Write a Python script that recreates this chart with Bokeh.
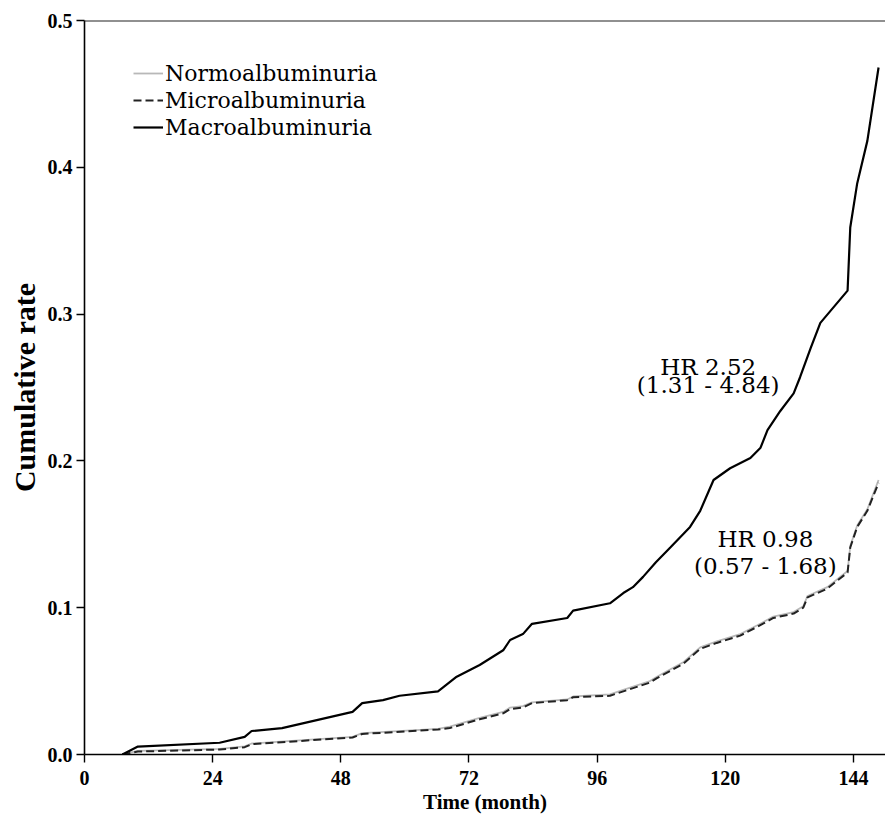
from bokeh.plotting import figure
from bokeh.models import Span, Legend, LegendItem, FixedTicker, Range1d, NumeralTickFormatter, Label
from bokeh.embed import file_html
from bokeh.resources import INLINE

# Data (months, cumulative rate)
macro_t = [7.1, 10, 25.3, 30, 31.3, 37, 50.2, 52, 55.9, 59, 66.2, 69.7, 74, 78.4, 79.7, 82.1, 83.8,
           90.4, 91.5, 98.4, 100.9, 102.7, 104.6, 107, 109.7, 113.4, 115.3, 117.8, 120.9, 124.7,
           126.6, 127.9, 130.3, 132.8, 134, 136, 137.8, 142.9, 143.4, 144.7, 146.6, 148.7]
macro_v = [0.0, 0.0054, 0.008, 0.012, 0.016, 0.018, 0.029, 0.035, 0.037, 0.040, 0.043, 0.053,
           0.061, 0.071, 0.078, 0.082, 0.089, 0.093, 0.098, 0.103, 0.110, 0.114, 0.121, 0.131,
           0.141, 0.155, 0.166, 0.187, 0.195, 0.202, 0.209, 0.221, 0.234, 0.246, 0.257, 0.277,
           0.294, 0.316, 0.359, 0.389, 0.418, 0.468]

micro_t = [7.1, 10, 25.3, 30, 31.3, 50.2, 52, 66.2, 68.4, 74, 78.4, 79.7, 82.1, 83.8, 90.4, 91.5,
           98.4, 100.9, 105.9, 107.2, 112.2, 115.3, 118.4, 122.8, 126, 129, 132.8, 134.6, 135.4,
           139.1, 142.9, 143.4, 144.7, 146.6, 148.7]
micro_v = [0.0, 0.002, 0.0034, 0.005, 0.007, 0.0116, 0.014, 0.017, 0.018, 0.024, 0.028, 0.031,
           0.032, 0.035, 0.037, 0.039, 0.040, 0.043, 0.049, 0.052, 0.062, 0.072, 0.076, 0.081,
           0.087, 0.093, 0.096, 0.100, 0.107, 0.113, 0.124, 0.141, 0.155, 0.166, 0.185]

normo_t = [7.1, 10, 25.3, 30, 31.3, 50.2, 52, 66.2, 68.4, 74, 78.4, 79.7, 82.1, 83.8, 90.4, 91.5,
           98.4, 100.9, 105.9, 107.2, 112.2, 115.3, 118.4, 122.8, 126, 129, 132.8, 134.6, 135.4,
           139.1, 142.9, 143.4, 144.7, 146.6, 148.7]
normo_v = [0.0, 0.0025, 0.0038, 0.0055, 0.0075, 0.012, 0.0145, 0.0175, 0.019, 0.025, 0.029, 0.032,
           0.033, 0.0355, 0.0375, 0.0395, 0.041, 0.044, 0.050, 0.053, 0.063, 0.073, 0.077, 0.082,
           0.088, 0.094, 0.097, 0.101, 0.108, 0.114, 0.125, 0.142, 0.156, 0.167, 0.187]

x_ticks = [0, 24, 48, 72, 96, 120, 144]
y_ticks = [0.0, 0.1, 0.2, 0.3, 0.4, 0.5]
series_names = ["Normoalbuminuria", "Microalbuminuria", "Macroalbuminuria"]
hr_macro = ["HR 2.52", "(1.31 - 4.84)"]
hr_micro = ["HR 0.98", "(0.57 - 1.68)"]

SERIF = "Liberation Serif"
WIDE_SERIF = "DejaVu Serif"

p = figure(width=885, height=824, x_range=Range1d(0, 150), y_range=Range1d(0, 0.5),
           output_backend="svg", toolbar_location=None,
           min_border_left=84, min_border_right=0, min_border_top=20, min_border_bottom=70)
p.outline_line_color = None
p.xgrid.visible = False
p.ygrid.visible = False
p.background_fill_color = "white"

for ax in (p.xaxis[0], p.yaxis[0]):
    ax.axis_line_color = "black"
    ax.axis_line_width = 1.6
    ax.major_tick_line_color = "black"
    ax.major_tick_line_width = 1.4
    ax.major_tick_out = 8
    ax.major_tick_in = 0
    ax.minor_tick_line_color = None
    ax.major_label_text_font = SERIF
    ax.major_label_text_font_style = "bold"
    ax.major_label_text_font_size = "20px"
    ax.major_label_text_color = "black"
    ax.axis_label_text_font = SERIF
    ax.axis_label_text_font_style = "bold"
    ax.axis_label_text_color = "black"

p.xaxis.ticker = FixedTicker(ticks=x_ticks)
p.yaxis.ticker = FixedTicker(ticks=y_ticks)
p.yaxis.formatter = NumeralTickFormatter(format="0.0")
p.xaxis.major_label_standoff = 8
p.yaxis.major_label_standoff = 4
p.xaxis.axis_label = "Time (month)"
p.xaxis.axis_label_text_font_size = "21px"
p.xaxis.axis_label_standoff = 2
p.yaxis.axis_label = "Cumulative rate"
p.yaxis.axis_label_text_font_size = "30px"
p.yaxis.axis_label_standoff = 4

p.add_layout(Span(location=0.5, dimension="width", line_color="#222222", line_width=2))

r_normo = p.line(normo_t, normo_v, line_color="#b8b8b8", line_width=1.8)
r_micro = p.line(micro_t, micro_v, line_color="#222222", line_width=2, line_dash="8 4")
r_macro = p.line(macro_t, macro_v, line_color="black", line_width=2.2)

legend = Legend(items=[LegendItem(label=series_names[0], renderers=[r_normo]),
                       LegendItem(label=series_names[1], renderers=[r_micro]),
                       LegendItem(label=series_names[2], renderers=[r_macro])],
                location=(49, 614), border_line_color=None, background_fill_alpha=0,
                label_text_font=WIDE_SERIF, label_text_font_size="22px", label_text_color="black",
                glyph_width=30, glyph_height=26, label_height=26, spacing=1,
                padding=0, margin=0, label_standoff=2)
p.add_layout(legend)

for (x, y, txt) in [(116.8, 0.2643, hr_macro[0]), (116.8, 0.2514, hr_macro[1]),
                    (127.5, 0.1465, hr_micro[0]), (127.5, 0.1287, hr_micro[1])]:
    p.add_layout(Label(x=x, y=y, text=txt, text_align="center", text_baseline="alphabetic",
                       text_font=WIDE_SERIF, text_font_size="23px", text_color="black"))

open("out.html", "w").write(file_html(p, INLINE))
